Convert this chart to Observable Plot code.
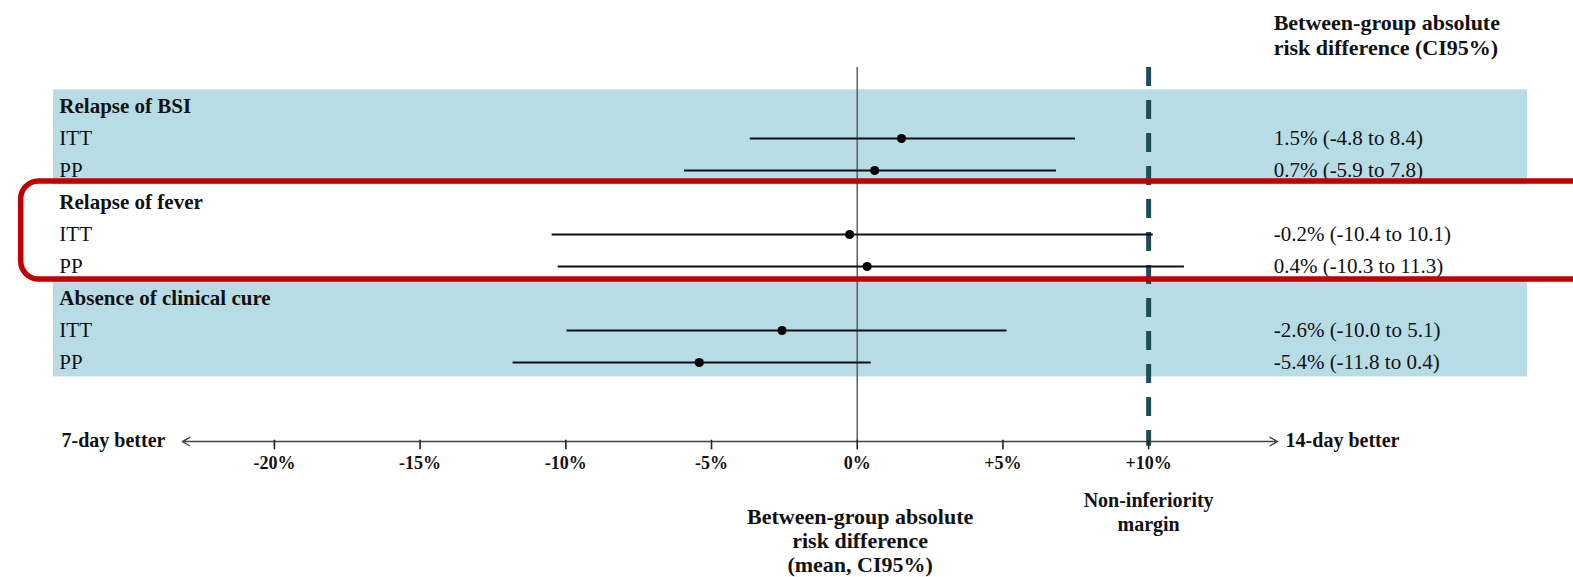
<!DOCTYPE html>
<html>
<head>
<meta charset="utf-8">
<script src="https://cdn.jsdelivr.net/npm/d3@7"></script>
<script src="https://cdn.jsdelivr.net/npm/@observablehq/plot@0.6"></script>
<style>
  html, body { margin: 0; padding: 0; background: #fff; overflow: hidden; }
  #chart svg { display: block; }
</style>
</head>
<body>
<div id="chart"></div>
<script>
// ---- data ----
const groups = ["Relapse of BSI", "Relapse of fever", "Absence of clinical cure"];
const analyses = ["ITT", "PP"];
const estimate = [1.52, 0.60, -0.26, 0.34, -2.58, -5.42];
const lower = [-3.67, -5.93, -10.47, -10.26, -9.96, -11.81];
const upper = [7.49, 6.84, 10.16, 11.23, 5.14, 0.48];
const ciLabels = [
  "1.5% (-4.8 to 8.4)", "0.7% (-5.9 to 7.8)",
  "-0.2% (-10.4 to 10.1)", "0.4% (-10.3 to 11.3)",
  "-2.6% (-10.0 to 5.1)", "-5.4% (-11.8 to 0.4)"
];
const xTicks = [-20, -15, -10, -5, 0, 5, 10];
const niMargin = 10;
const highlightedGroup = 1;

// ---- derived tables ----
const groupRows = groups.map((g, i) => ({name: g, row: 3 * i, shaded: i !== highlightedGroup}));
const rows = estimate.map((e, i) => ({
  analysis: analyses[i % 2],
  row: 3 * Math.floor(i / 2) + 1 + (i % 2),
  est: e, lo: lower[i], hi: upper[i], label: ciLabels[i]
}));
const fmtTick = d => (d > 0 ? "+" : "") + d + "%";

// layout (in scale units)
const axisRow = 10.47, topRow = -1.22;
const textLeft = -27.38, valueLeft = 14.29;
const serif = "Liberation Serif";

const chart = Plot.plot({
  width: 1573,
  height: 577,
  margin: 0,
  style: {fontFamily: serif, fontSize: "21px", background: "#fff", color: "#111"},
  x: {domain: [-29.40, 24.58], axis: null},
  y: {type: "linear", domain: [-3.3125, 14.71875], range: [0, 577], axis: null},
  marks: [
    // shaded bands
    Plot.rect(groupRows.filter(d => d.shaded), {
      x1: -27.58, x2: 23.0, y1: d => d.row - 0.52, y2: d => d.row + 2.45, fill: "#b7dce6"
    }),
    // zero line
    Plot.ruleX([0], {y1: topRow, y2: axisRow, stroke: "#555", strokeWidth: 1.4}),
    // non-inferiority margin
    Plot.ruleX([niMargin], {y1: topRow, y2: axisRow + 0.15, stroke: "#1d4f57", strokeWidth: 5, strokeDasharray: "19,14"}),
    // CI lines and estimates
    Plot.ruleY(rows, {y: "row", x1: "lo", x2: "hi", stroke: "#111", strokeWidth: 2}),
    Plot.dot(rows, {x: "est", y: "row", r: 4.6, fill: "#000", stroke: null}),
    // row labels
    Plot.text(groupRows, {x: textLeft, y: "row", text: "name", textAnchor: "start", fontWeight: "bold", fontSize: 21}),
    Plot.text(rows, {x: textLeft, y: "row", text: "analysis", textAnchor: "start", fontSize: 21}),
    Plot.text(rows, {x: valueLeft, y: "row", text: "label", textAnchor: "start", fontSize: 21}),
    // header
    Plot.text(["Between-group absolute\nrisk difference (CI95%)"], {
      x: valueLeft, y: -2.26, text: d => d, textAnchor: "start", fontWeight: "bold", fontSize: 22, lineHeight: 1.18
    }),
    // axis
    Plot.arrow([{a: 0, b: -23.16}, {a: 0, b: 14.42}], {
      x1: "a", x2: "b", y1: axisRow, y2: axisRow, stroke: "#444", strokeWidth: 1.4, headLength: 9
    }),
    Plot.ruleX(xTicks, {x: d => d, y1: axisRow - 0.04, y2: axisRow + 0.26, stroke: "#222", strokeWidth: 1.6}),
    Plot.text(xTicks, {x: d => d, y: 11.16, text: fmtTick, fontWeight: "bold", fontSize: 18}),
    Plot.text(["7-day better"], {x: -23.74, y: axisRow - 0.03, text: d => d, textAnchor: "end", fontWeight: "bold", fontSize: 20}),
    Plot.text(["14-day better"], {x: 14.70, y: axisRow - 0.03, text: d => d, textAnchor: "start", fontWeight: "bold", fontSize: 20}),
    Plot.text(["Non-inferiority\nmargin"], {x: niMargin, y: 12.64, text: d => d, fontWeight: "bold", fontSize: 20, lineHeight: 1.2}),
    Plot.text(["Between-group absolute\nrisk difference\n(mean, CI95%)"], {
      x: 0.1, y: 13.55, text: d => d, fontWeight: "bold", fontSize: 22, lineHeight: 1.1
    }),
    // highlight box around the middle group
    Plot.rect([groupRows[highlightedGroup]], {
      x1: -28.69, x2: 26, y1: d => d.row - 0.66, y2: d => d.row + 2.41,
      fill: "none", stroke: "#c00000", strokeWidth: 5.5, rx: 18
    })
  ]
});
document.getElementById("chart").append(chart);
</script>
</body>
</html>
